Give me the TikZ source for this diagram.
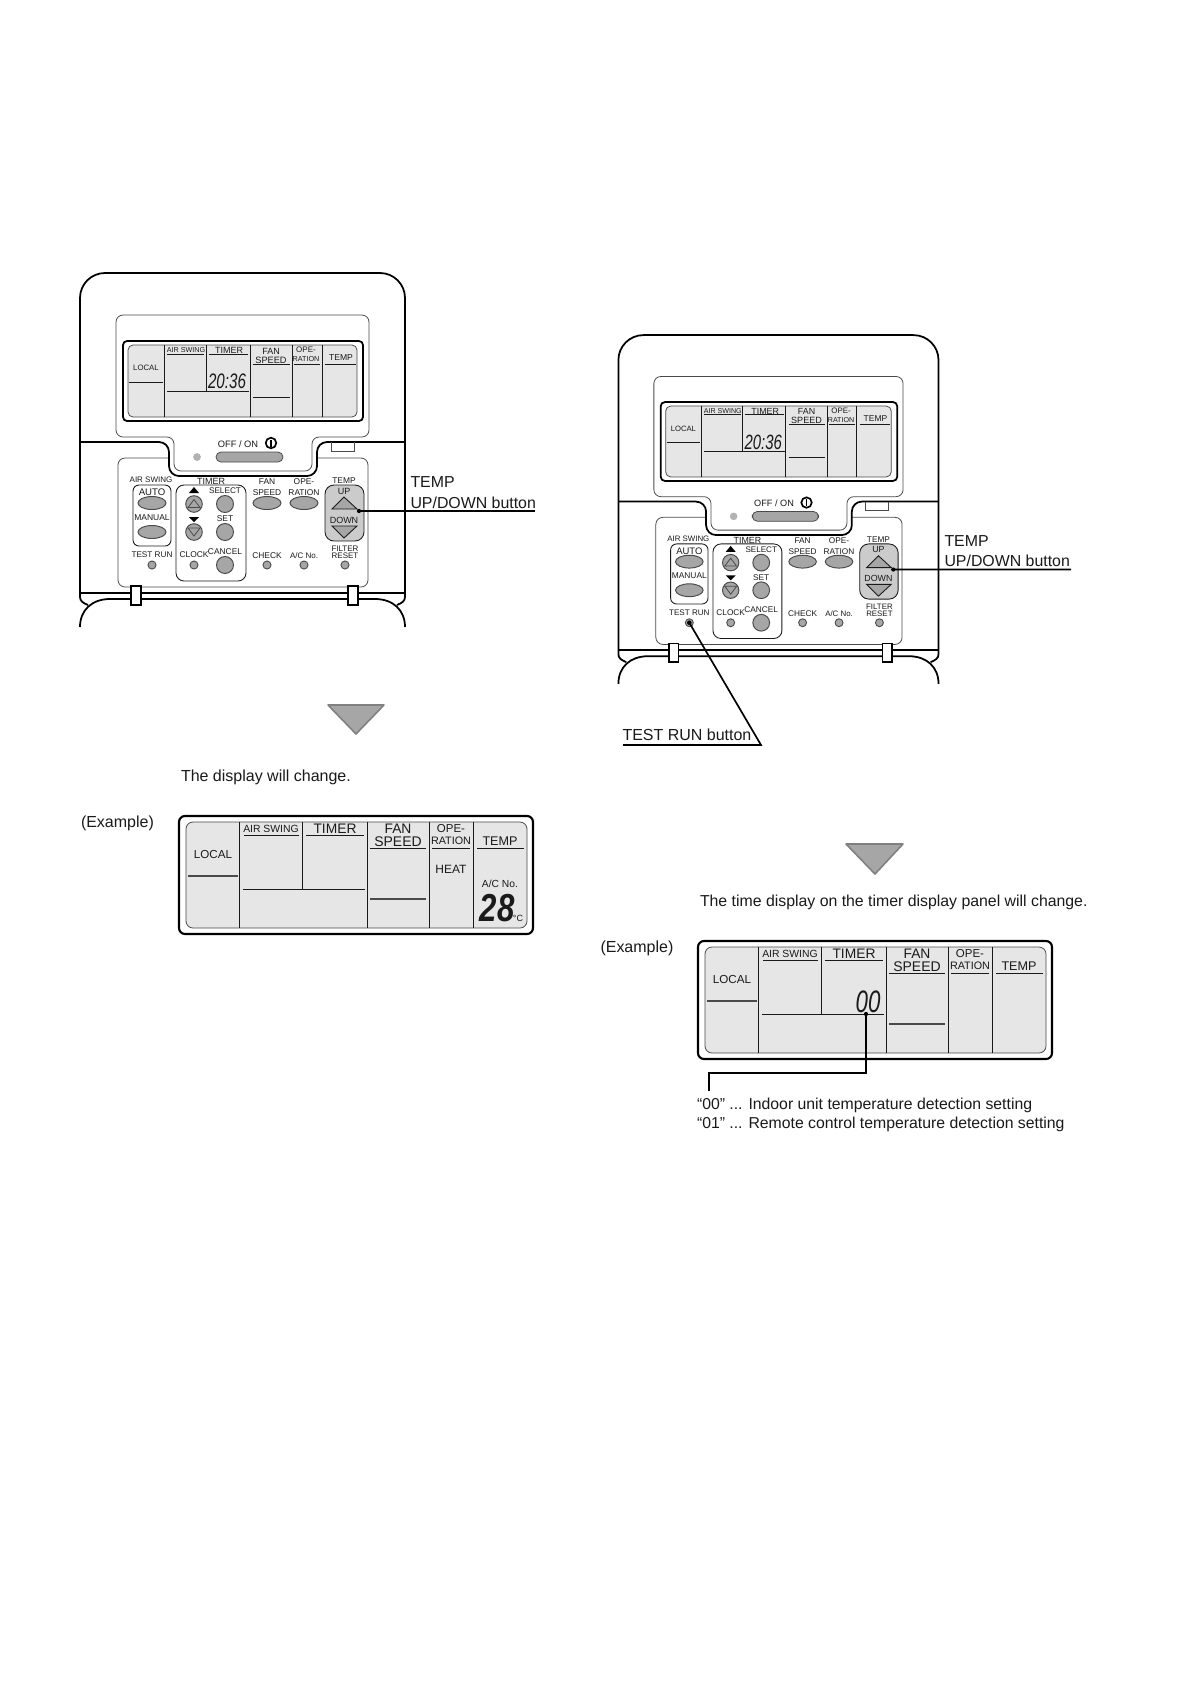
\documentclass[tikz,border=0pt]{standalone}
\usepackage{fontspec}
\setmainfont{Liberation Sans}
\newcommand\fpx[1]{\fontsize{\the\dimexpr #1pt*569/1000\relax}{\the\dimexpr #1pt*680/1000\relax}\selectfont}
\definecolor{ink}{HTML}{1A1A1A}
\definecolor{lcdbg}{HTML}{E6E6E6}
\definecolor{btn}{HTML}{A6A6A6}
\definecolor{grp}{HTML}{CBCBCB}
\definecolor{edge}{HTML}{4A4A4A}
\tikzset{
  txt/.style={inner sep=0pt,outer sep=0pt,text=ink,transform shape},
  ltxt/.style={txt,anchor=west},
  heavy/.style={draw=black,line width=1.0pt},
  mid/.style={draw=ink,line width=0.5pt},
  fine/.style={draw=edge,line width=0.45pt},
  lead/.style={draw=black,line width=0.95pt},
  keyoval/.style={fine,fill=btn,line width=0.55pt},
  keyround/.style={fine,fill=btn,line width=0.55pt},
  leaddot/.style={circle,fill=black,inner sep=0pt,minimum size=2.4pt,transform shape},
  lamp/.style={circle,draw=edge,fill=btn,line width=0.5pt,inner sep=0pt,minimum size=4.6pt,transform shape},
  lcdtext/.style={txt,font=\itshape},
  downtri/.style={draw=edge!70,fill=btn,line join=round,line width=0.9pt}
}
\newcommand\tl[4]{\node[txt] (\pf#1) at (#2) {\fpx{#3}#4};}
% ---- small display + remote body
\newcommand\remote[4]{%
\def\pf{#1}%
\begin{scope}[shift={(#2,#3)},scale=#4]
 % body
 \draw[heavy,rounded corners=0.5cm] (80,597) -- (80,273) -- (405,273) -- (405,597);
 \draw[heavy] (80,597) .. controls (80,601) and (83,603) .. (88,605);
 \draw[heavy] (405,597) .. controls (405,601) and (402,603) .. (397,605);
 \draw[heavy] (80,593) -- (405,593);
 \draw[heavy] (80,627) .. controls (80,610) and (92,599) .. (110,599) -- (375,599) .. controls (393,599) and (405,610) .. (405,627);
 % key panel
 \draw[fine,rounded corners=0.14cm] (118,458) rectangle (368,587);
 % notch
 \path[fill=white,rounded corners=0.2cm] (169,438) -- (169,476) -- (317,476) -- (317,438) -- cycle;
 \draw[heavy,rounded corners=0.2cm] (80,442) -- (169,442) -- (169,476) -- (317,476) -- (317,442) -- (405,442);
 % small tab
 \draw[fine] (331,442) -- (331,451) -- (354,451) -- (354,442);
 % display panel
 \draw[fine,fill=white,rounded corners=0.14cm] (116,437) -- (116,315) -- (369,315) -- (369,437) -- (312,437) -- (312,471) -- (174,471) -- (174,437) -- cycle;
 % LCD
 \draw[heavy,rounded corners=0.08cm] (123,341) rectangle (363,421);
 \draw[fine,fill=lcdbg,rounded corners=0.1cm] (128,345) rectangle (357,417);
 \draw[mid] (164,345) -- (164,417);
 \draw[mid] (206,345) -- (206,391);
 \draw[mid] (250,345) -- (250,417);
 \draw[mid] (292,345) -- (292,417);
 \draw[mid] (322,345) -- (322,417);
 \draw[mid] (129,382) -- (163,382);
 \draw[mid] (167,391) -- (249,391);
 \draw[mid] (253,397) -- (290,397);
 \draw[mid] (167,354) -- (204,354);
 \draw[mid] (209,354) -- (248,354);
 \draw[mid] (253,364) -- (290,364);
 \draw[mid] (294,364) -- (320,364);
 \draw[mid] (325,364) -- (356,364);
 \tl{local}{146,368}{7.8}{LOCAL}
 \tl{swing}{186,350}{7.2}{AIR SWING}
 \tl{timer}{229,350}{9}{TIMER}
 \tl{fan}{271,351}{9}{FAN}
 \tl{speed}{271,360}{9.2}{SPEED}
 \tl{ope}{306,350}{8}{OPE-}
 \tl{ration}{306,359}{7.2}{RATION}
 \tl{temp}{341,358}{8.6}{TEMP}
 \node[lcdtext,xscale=0.72] (\pf clock) at (227,381.5) {\fpx{21}20:36};
 % off/on
 \tl{offon}{238,444}{9.3}{OFF / ON}
 \draw[black,line width=0.95pt] (271,443) circle (5.3);
 \draw[black,line width=1pt] (271,439.5) -- (271,446.5);
 \draw[fine,fill=btn,rounded corners=0.1cm] (216,452) rectangle (283,462);
 \node[circle,fill=black!30,inner sep=0pt,minimum size=4.4pt,transform shape] (\pf led) at (197,457) {};
 % air swing group
 \draw[mid,rounded corners=0.12cm] (133,485) rectangle (171,546);
 \tl{asw}{151,480}{8}{AIR SWING}
 \tl{auto}{152,492}{9.6}{AUTO}
 \draw[keyoval] (152,503) ellipse (14 and 6.5);
 \tl{manual}{152,517.5}{8.5}{MANUAL}
 \draw[keyoval] (152,532) ellipse (14 and 6.5);
 \tl{trun}{152,555}{8.2}{TEST RUN}
 \node[lamp] (\pf testdot) at (152,565) {};
 % timer group
 \draw[mid,rounded corners=0.16cm] (176,485) rectangle (246,581);
 \tl{ttl}{211,481}{9}{TIMER}
 \fill[black] (194,487) -- (199,493) -- (189,493) -- cycle;
 \tl{sel}{225,491}{8.2}{SELECT}
 \draw[keyround] (194,504) circle (8.3);
 \draw[fine] (194,499.5) -- (200,507.5) -- (188,507.5) -- cycle;
 \draw[keyround] (225,504) circle (8.5);
 \fill[black] (189,517) -- (199,517) -- (194,522) -- cycle;
 \tl{set}{225,519}{8.4}{SET}
 \draw[keyround] (194,532) circle (8.3);
 \draw[fine] (188,528) -- (200,528) -- (194,536) -- cycle;
 \draw[keyround] (225,532) circle (8.5);
 \tl{clk}{194,555}{8.4}{CLOCK}
 \node[lamp] (\pf clkdot) at (194,565) {};
 \tl{can}{225,552}{8.4}{CANCEL}
 \draw[keyround] (225,565) circle (8.5);
 % fan / operation
 \tl{kfan}{267,482}{8.4}{FAN}
 \tl{kspd}{267,493}{8.4}{SPEED}
 \draw[keyoval] (267,503) ellipse (14 and 6.5);
 \tl{kope}{304,482}{8.4}{OPE-}
 \tl{krat}{304,493}{8.4}{RATION}
 \draw[keyoval] (304,503) ellipse (14 and 6.5);
 \tl{chk}{267,556}{8.4}{CHECK}
 \node[lamp] (\pf chkdot) at (267,565) {};
 \tl{acn}{304,556}{8}{A/C No.}
 \node[lamp] (\pf acdot) at (304,565) {};
 % temp group
 \draw[mid,fill=grp,rounded corners=0.18cm] (325,485) rectangle (364,541);
 \tl{ktemp}{344,481}{8.4}{TEMP}
 \tl{kup}{344,491}{9}{UP}
 \draw[mid,fill=btn] (344,497) -- (357,509) -- (332,509) -- cycle;
 \tl{kdn}{344,520}{9}{DOWN}
 \draw[mid,fill=btn] (332,526) -- (357,526) -- (344,538) -- cycle;
 \tl{kfil}{345,549}{8}{FILTER}
 \tl{kres}{345,556}{8}{RESET}
 \node[lamp] (\pf resdot) at (345,565) {};
 \node[leaddot] (\pf tempdot) at (359,511) {};
 % tabs
 \draw[heavy,fill=white] (131,586) rectangle (141,605);
 \draw[heavy,fill=white] (348,586) rectangle (358,605);
\end{scope}}
% ---- large display
\newcommand\bigdisp[4]{%
\def\pf{#1}%
\begin{scope}[shift={(#2,#3)}]
 \draw[heavy,line width=1.2pt,rounded corners=0.12cm] (179,816) rectangle (533,934);
 \draw[fine,fill=lcdbg,rounded corners=0.14cm] (186,822) rectangle (527,928);
 \draw[mid] (239,822) -- (239,928);
 \draw[mid] (302,822) -- (302,889);
 \draw[mid] (367,822) -- (367,928);
 \draw[mid] (429,822) -- (429,928);
 \draw[mid] (473,822) -- (473,928);
 \draw[fine,line width=0.6pt] (188,876) -- (238,876);
 \draw[mid] (243,889) -- (365,889);
 \draw[fine,line width=0.6pt] (370,899) -- (426,899);
 \draw[mid] (244,835) -- (299,835);
 \draw[mid] (306,835) -- (364,835);
 \draw[mid] (370,848) -- (426,848);
 \draw[mid] (432,848) -- (470,848);
 \draw[mid] (477,848) -- (524,848);
 \tl{local}{213,854}{11.6}{LOCAL}
 \tl{swing}{271,829}{10.4}{AIR SWING}
 \tl{timer}{335,829}{13.8}{TIMER}
 \tl{fan}{398,829}{13.8}{FAN}
 \tl{speed}{398,842}{14}{SPEED}
 \tl{ope}{451,829}{11.5}{OPE-}
 \tl{ration}{451,841}{10.8}{RATION}
 \tl{temp}{500,841}{12.6}{TEMP}
 #4
\end{scope}}
\begin{document}
\begin{tikzpicture}[x=0.02cm,y=-0.02cm]
\useasboundingbox[fill=white] (0,0) rectangle (1190,1684);
% left column
\remote{L}{0}{0}{1}
\node[ltxt] (Ltemplbl) at (410.5,482.5) {\fpx{15.9}TEMP};
\node[ltxt] (Ludlbl) at (410.5,502.5) {\fpx{15.9}UP/DOWN button};
\coordinate (Lend) at (535,511);
\draw[lead] (Ltempdot.center) -- (Lend);
\draw[downtri] (328,705) -- (384,705) -- (356,734) -- cycle;
\node[ltxt] (Lchg) at (181,777.5) {\fpx{16}The display will change.};
\node[ltxt] (Lex) at (81,823.5) {\fpx{16}(Example)};
\bigdisp{A}{0}{0}{%
 \tl{heat}{451,869}{12}{HEAT}
 \tl{acno}{500,884}{10.3}{A/C No.}
 \node[lcdtext,xscale=0.8] (Adeg) at (497,908) {\fpx{39}\bfseries 28};
 \tl{degc}{518,918}{9}{\textdegree C}
}
% right column
\remote{R}{539.6}{66.2}{0.985}
\node[ltxt] (Rtemplbl) at (944.5,541) {\fpx{15.9}TEMP};
\node[ltxt] (Rudlbl) at (944.5,560.5) {\fpx{15.9}UP/DOWN button};
\coordinate (Rend) at (1071,569.5);
\draw[lead] (Rtempdot.center) -- (Rend);
\node[ltxt] (Rtest) at (622.5,735) {\fpx{16}TEST RUN button};
\coordinate (Rcorner) at (761,745);
\coordinate (Rtestend) at (623,745);
\fill[black] (Rtestdot) circle (2.3);
\draw[lead] (Rtestdot.center) -- (Rcorner) -- (Rtestend);
\draw[downtri] (846,844) -- (903,844) -- (875,874) -- cycle;
\node[ltxt] (Rchg) at (700,902.5) {\fpx{15.85}The time display on the timer display panel will change.};
\node[ltxt] (Rex) at (600.5,948.5) {\fpx{16}(Example)};
\bigdisp{B}{519}{125}{%
 \node[lcdtext,xscale=0.72] (Bzero) at (349,877) {\fpx{31}00};
 \node[leaddot] (Bdot) at (347,889) {};
}
\coordinate (Bk1) at (866,1073);
\coordinate (Bk2) at (709,1073);
\coordinate (Bk3) at (709,1091);
\draw[lead] (Bdot.center) -- (Bk1) -- (Bk2) -- (Bk3);
\node[ltxt] (Bn1) at (697,1105.5) {\fpx{15.8}“00” ... Indoor unit temperature detection setting};
\node[ltxt] (Bn2) at (697,1124.5) {\fpx{15.8}“01” ... Remote control temperature detection setting};
\end{tikzpicture}
\end{document}
